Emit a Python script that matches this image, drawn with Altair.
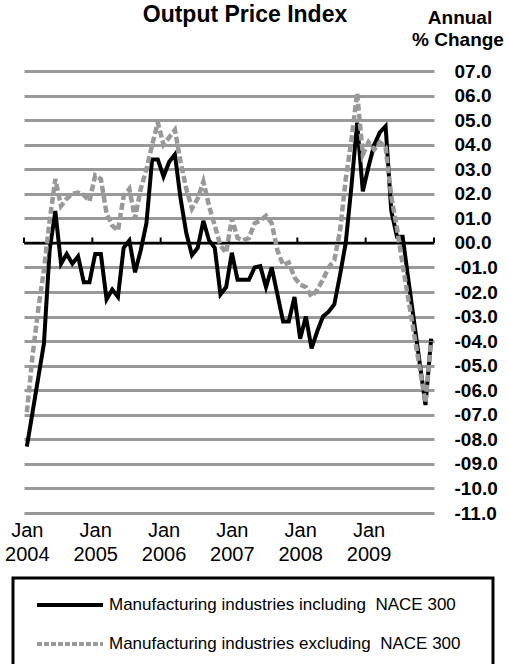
import altair as alt
import pandas as pd

# ---------------- data ----------------
first_year = 2004
year_labels = ["2004", "2005", "2006", "2007", "2008", "2009"]
month_index = list(range(72))  # Jan 2004 .. Dec 2009

incl = [-8.3, -6.9, -5.5, -4.1, -0.3, 1.3, -0.85, -0.45, -0.85, -0.55, -1.6, -1.6,
        -0.45, -0.45, -2.3, -1.9, -2.2, -0.2, 0.1, -1.2, -0.3, 0.8, 3.4, 3.4,
        2.7, 3.3, 3.6, 1.8, 0.4, -0.5, -0.2, 0.9, 0.1, -0.2, -2.1, -1.8,
        -0.4, -1.5, -1.5, -1.5, -1.0, -0.95, -1.8, -1.0, -2.1, -3.2, -3.2, -2.2,
        -3.9, -3.0, -4.3, -3.6, -3.0, -2.8, -2.5, -1.3, 0.0, 2.3, 4.9, 2.1,
        3.1, 4.0, 4.5, 4.75, 1.3, 0.25, 0.25, -1.5, -3.2, -4.9, -6.6, -3.9]

excl = [-6.9, -4.6, -2.7, -1.1, 0.9, 2.6, 1.5, 1.8, 2.0, 2.05, 1.95, 1.7,
        2.75, 2.6, 1.2, 0.7, 0.5, 1.9, 2.2, 1.0, 2.2, 3.0, 4.0, 4.9,
        4.0, 4.3, 4.6, 3.3, 2.2, 1.4, 1.8, 2.5, 1.5, 0.7, -0.1, -0.4,
        1.0, 0.2, 0.1, 0.2, 0.8, 0.9, 1.1, 0.8, -0.3, -0.9, -0.8, -1.4,
        -1.7, -1.8, -2.2, -1.9, -1.5, -1.0, -0.7, 0.5, 2.6, 4.2, 6.1, 3.6,
        4.1, 3.8, 4.1, 3.9, 1.9, 0.6, -0.9, -2.3, -3.7, -5.1, -6.5, -4.0]

series_names = ["Manufacturing industries including\u00a0 NACE 300",
                "Manufacturing industries excluding\u00a0 NACE 300"]
y_ticks = list(range(-11, 8))
year_bounds = [12 * k for k in range(7)]
title_text = "Output Price Index"
unit_text = ["Annual", "% Change"]

FONT = "Liberation Sans"
GRAY = "#999999"

df = pd.DataFrame({"m": [i + 0.5 for i in month_index], "incl": incl, "excl": excl})
one = pd.DataFrame({"a": [0]})
ticks_df = pd.DataFrame({"b": year_bounds, "y0": [0.0] * 7, "y1": [0.22] * 7})

x_scale = alt.Scale(domain=[0, 72], nice=False, zero=False)
y_scale = alt.Scale(domain=[-11, 7], nice=False, zero=False)

x_axis = alt.Axis(values=[b + 0.5 for b in year_bounds[:6]], grid=False, domain=False, ticks=False,
                  labelExpr=f"['Jan', toString({first_year} + floor(datum.value / 12))]",
                  labelFont=FONT, labelFontSize=20, labelColor="black",
                  labelLineHeight=24, labelPadding=7, labelBaseline="top",
                  labelFlush=False, labelOverlap=False, title=None)
y_axis = alt.Axis(orient="right", values=y_ticks, grid=True, gridColor=GRAY, gridWidth=3,
                  domain=False, ticks=False, labelFont=FONT, labelFontSize=19,
                  labelFontWeight="bold", labelColor="black", labelPadding=20,
                  labelAlign="left", labelBaseline="middle", labelOverlap=False, title=None,
                  labelExpr="(datum.value < 0 ? '-' : '') + (abs(datum.value) < 10 ? '0' : '') + format(abs(datum.value), '.1f')")

black_line = alt.Chart(df).mark_line(color="black", strokeWidth=4).encode(
    x=alt.X("m:Q", scale=x_scale, axis=x_axis),
    y=alt.Y("incl:Q", scale=y_scale, axis=y_axis),
)
gray_line = alt.Chart(df).mark_line(color=GRAY, strokeWidth=4.5, strokeDash=[7, 3]).encode(
    x=alt.X("m:Q", scale=x_scale, axis=x_axis),
    y=alt.Y("excl:Q", scale=y_scale, axis=y_axis),
)

zero_rule = alt.Chart(pd.DataFrame({"z": [0]})).mark_rule(color="black", strokeWidth=2.5).encode(
    y=alt.Y("z:Q", scale=y_scale, axis=y_axis)
)
year_ticks = alt.Chart(ticks_df).mark_rule(color="black", strokeWidth=2).encode(
    x=alt.X("b:Q", scale=x_scale, axis=x_axis),
    y=alt.Y("y0:Q", scale=y_scale, axis=y_axis),
    y2="y1:Q",
)

title = alt.Chart(one).mark_text(font=FONT, fontSize=23, fontWeight="bold", align="center",
                                 baseline="middle").encode(
    x=alt.value(221), y=alt.value(-56), text=alt.value(title_text))
unit1 = alt.Chart(one).mark_text(font=FONT, fontSize=19, fontWeight="bold", align="center",
                                 baseline="middle").encode(
    x=alt.value(436), y=alt.value(-53), text=alt.value(unit_text[0]))
unit2 = alt.Chart(one).mark_text(font=FONT, fontSize=19, fontWeight="bold", align="center",
                                 baseline="middle").encode(
    x=alt.value(434), y=alt.value(-31), text=alt.value(unit_text[1]))

legend_box = alt.Chart(one).mark_rect(fill="white", stroke="black", strokeWidth=3).encode(
    x=alt.value(-11), x2=alt.value(469), y=alt.value(507), y2=alt.value(700))
leg_black = alt.Chart(one).mark_rule(color="black", strokeWidth=4).encode(
    x=alt.value(13), x2=alt.value(79), y=alt.value(534))
leg_gray = alt.Chart(one).mark_rule(color=GRAY, strokeWidth=4, strokeDash=[5, 2]).encode(
    x=alt.value(13), x2=alt.value(79), y=alt.value(573))
leg_t1 = alt.Chart(one).mark_text(font=FONT, fontSize=17, align="left", baseline="middle").encode(
    x=alt.value(85), y=alt.value(534), text=alt.value(series_names[0]))
leg_t2 = alt.Chart(one).mark_text(font=FONT, fontSize=17, align="left", baseline="middle").encode(
    x=alt.value(85), y=alt.value(573), text=alt.value(series_names[1]))

chart = alt.layer(
    black_line, zero_rule, year_ticks, gray_line,
    title, unit1, unit2, legend_box, leg_black, leg_gray, leg_t1, leg_t2,
).properties(
    width=410, height=442,
    autosize=alt.AutoSizeParams(type="none"),
    padding={"left": 24, "top": 71, "right": 74, "bottom": 151},
    background="white",
).configure_view(stroke=None).configure_axis(labelOverlap=False)

chart.save("out.html", embed_options={"renderer": "svg", "actions": False})
